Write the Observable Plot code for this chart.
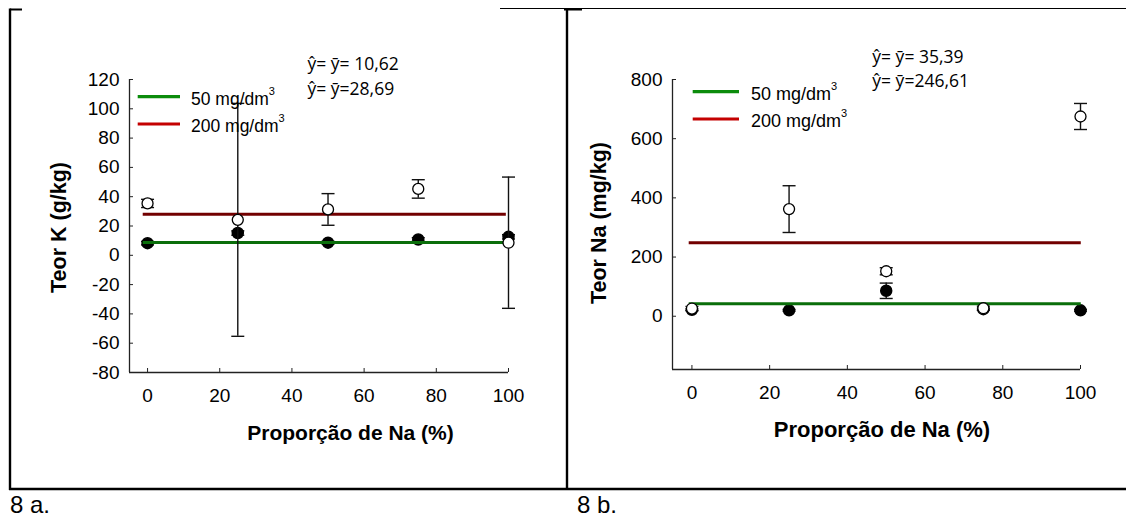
<!DOCTYPE html>
<html><head><meta charset="utf-8">
<script src="https://cdn.jsdelivr.net/npm/d3@7"></script>
<script src="https://cdn.jsdelivr.net/npm/@observablehq/plot@0.6"></script>
<style>
html,body{margin:0;padding:0;background:#fff;width:1126px;height:517px;overflow:hidden;}
#wrap{position:relative;width:1126px;height:517px;}
#a{position:absolute;left:0;top:0;}
#b{position:absolute;left:567px;top:0;}
#overlay{position:absolute;left:0;top:0;pointer-events:none;}
</style></head><body>
<div id="wrap"><div id="a"></div><div id="b"></div><svg id="overlay" width="1126" height="517"></svg></div>
<script>
// ---------- data ----------
const proportions = [0, 25, 50, 75, 100];
const xTicks = [0, 20, 40, 60, 80, 100];
const seriesNames = ["50 mg/dm", "200 mg/dm"];
const xTitle = "Proporção de Na (%)";

// 8 a. Teor K (g/kg)
const kTitle = "Teor K (g/kg)";
const kFilled = [8.3, 15.2, 8.6, 10.8, 12.6];      // 50 mg/dm3
const kFilledErr = [1.2, 1.5, 1.0, 1.2, 1.5];
const kOpen = [35.4, 24.2, 31.3, 45.3, 8.6];       // 200 mg/dm3
const kOpenErr = [2.8, 79.5, 10.8, 6.3, 44.8];
const kMeans = [8.7, 28.0];
const kMeanLabels = ["ŷ= ȳ= 10,62", "ŷ= ȳ=28,69"];
const kTicksY = [-80, -60, -40, -20, 0, 20, 40, 60, 80, 100, 120];
const kDomainY = [-80, 120];

// 8 b. Teor Na (mg/kg)
const naTitle = "Teor Na (mg/kg)";
const naFilled = [22, 20, 86, 24, 20];
const naFilledErr = [3, 3, 26, 3, 3];
const naOpen = [26, 362, 152, 27, 675];
const naOpenErr = [7, 79, 12, 7, 44];
const naMeans = [42.6, 248];
const naMeanLabels = ["ŷ= ȳ= 35,39", "ŷ= ȳ=246,61"];
const naTicksY = [0, 200, 400, 600, 800];
const naDomainY = [-180, 800];

const panelLabels = ["8 a.", "8 b."];

// ---------- styling ----------
const plotGreen = "#0a6e0a", plotRed = "#720000";
const legGreen = "#0c8c0c", legRed = "#c40000";

const capSymbol = {draw(ctx, size) { const r = Math.sqrt(size / Math.PI); ctx.moveTo(-r, 0); ctx.lineTo(r, 0); }};

function panel(cfg) {
  const rows = proportions.map((x, i) => ({x, f: cfg.filled[i], fe: cfg.filledErr[i], o: cfg.open[i], oe: cfg.openErr[i]}));
  const meanRows = cfg.means.map((m, i) => ({y: m, x1: cfg.lineX[0], x2: cfg.lineX[1], c: i === 0 ? plotGreen : plotRed}));
  return Plot.plot({
    width: cfg.width, height: 488,
    marginLeft: cfg.marginLeft, marginRight: cfg.marginRight,
    marginTop: 79, marginBottom: cfg.marginBottom,
    x: {domain: [-5, 100]},
    y: {domain: cfg.domainY},
    style: {fontFamily: "'Liberation Sans', Arial, sans-serif", fontSize: "19px", color: "#000", background: "transparent", overflow: "visible"},
    marks: [
      Plot.ruleX([-5], {stroke: "#222", strokeWidth: 1.3}),
      Plot.ruleY([cfg.domainY[0]], {stroke: "#222", strokeWidth: 1.3}),
      Plot.axisX({ticks: xTicks, tickSize: -4, tickPadding: 20, tickFormat: d => `${d}`, label: null, stroke: "#222"}),
      Plot.axisY({ticks: cfg.ticksY, tickSize: -4, tickPadding: 14, tickFormat: d => `${d}`, label: null, stroke: "#222"}),
      // filled series error bars
      Plot.ruleX(rows, {x: "x", y1: d => d.f - d.fe, y2: d => d.f + d.fe, stroke: "#111", strokeWidth: 1.4}),
      Plot.dot(rows, {x: "x", y: d => d.f + d.fe, symbol: capSymbol, r: 6.5, stroke: "#111", strokeWidth: 1.4, fill: "none"}),
      Plot.dot(rows, {x: "x", y: d => d.f - d.fe, symbol: capSymbol, r: 6.5, stroke: "#111", strokeWidth: 1.4, fill: "none"}),
      Plot.dot(rows, {x: "x", y: "f", r: 5.5, fill: "#000", stroke: "#000"}),
      // regression (mean) lines
      Plot.ruleY(meanRows, {y: "y", x1: "x1", x2: "x2", stroke: "c", strokeWidth: 3}),
      // open series error bars
      Plot.ruleX(rows, {x: "x", y1: d => d.o - d.oe, y2: d => d.o + d.oe, stroke: "#111", strokeWidth: 1.4}),
      Plot.dot(rows, {x: "x", y: d => d.o + d.oe, symbol: capSymbol, r: 6.5, stroke: "#111", strokeWidth: 1.4, fill: "none"}),
      Plot.dot(rows, {x: "x", y: d => d.o - d.oe, symbol: capSymbol, r: 6.5, stroke: "#111", strokeWidth: 1.4, fill: "none"}),
      Plot.dot(rows, {x: "x", y: "o", r: 5.5, fill: "#fff", stroke: "#000", strokeWidth: 1.3})
    ]
  });
}

document.getElementById("a").append(panel({
  width: 567, marginLeft: 129, marginRight: 59, marginBottom: 116,
  domainY: kDomainY, ticksY: kTicksY,
  filled: kFilled, filledErr: kFilledErr, open: kOpen, openErr: kOpenErr,
  means: kMeans, lineX: [-1.2, 99.4]
}));
document.getElementById("b").append(panel({
  width: 559, marginLeft: 105, marginRight: 46, marginBottom: 119,
  domainY: naDomainY, ticksY: naTicksY,
  filled: naFilled, filledErr: naFilledErr, open: naOpen, openErr: naOpenErr,
  means: naMeans, lineX: [-0.7, 100.2]
}));

// ---------- overlay: frames, titles, legends, annotations ----------
const ov = d3.select("#overlay");
const sans = "'Liberation Sans', Arial, sans-serif";
// frames
ov.append("line").attr("x1", 500).attr("x2", 1126).attr("y1", 8.5).attr("y2", 8.5).attr("stroke", "#000").attr("stroke-width", 1);
ov.append("line").attr("x1", 10).attr("x2", 22).attr("y1", 9.5).attr("y2", 9.5).attr("stroke", "#000").attr("stroke-width", 2);
ov.append("line").attr("x1", 564).attr("x2", 582).attr("y1", 9.5).attr("y2", 9.5).attr("stroke", "#000").attr("stroke-width", 2);
ov.append("line").attr("x1", 10).attr("x2", 10).attr("y1", 8.5).attr("y2", 490).attr("stroke", "#000").attr("stroke-width", 2.4);
ov.append("line").attr("x1", 567).attr("x2", 567).attr("y1", 8).attr("y2", 490).attr("stroke", "#000").attr("stroke-width", 2.4);
ov.append("line").attr("x1", 9).attr("x2", 1126).attr("y1", 489).attr("y2", 489).attr("stroke", "#000").attr("stroke-width", 2.4);

// panel labels
ov.append("text").attr("x", 10).attr("y", 513).attr("font-family", sans).attr("font-size", 24).text(panelLabels[0]);
ov.append("text").attr("x", 577).attr("y", 513).attr("font-family", sans).attr("font-size", 24).text(panelLabels[1]);

// axis titles
function bold(x, y, s, size, rot) {
  const t = ov.append("text").attr("font-family", sans).attr("font-weight", "bold").attr("font-size", size)
    .attr("text-anchor", "middle").attr("fill", "#000").text(s);
  if (rot) t.attr("transform", `translate(${x},${y}) rotate(-90)`); else t.attr("x", x).attr("y", y);
}
bold(350.5, 440, xTitle, 21, false);
bold(882, 437, xTitle, 22, false);
bold(66, 227.5, kTitle, 21.5, true);
bold(606, 223, naTitle, 21.5, true);

// legends
function legend(x0, x1, tx, ys, size) {
  [legGreen, legRed].forEach((c, i) => {
    ov.append("line").attr("x1", x0).attr("x2", x1).attr("y1", ys[i][0]).attr("y2", ys[i][0]).attr("stroke", c).attr("stroke-width", 3.2);
    const t = ov.append("text").attr("x", tx).attr("y", ys[i][1]).attr("font-family", sans).attr("font-size", size).attr("fill", "#000");
    t.append("tspan").text(seriesNames[i]);
    t.append("tspan").attr("dy", -10).attr("font-size", 11).text("3");
  });
}
legend(137.7, 180, 191, [[96.7, 105], [124, 132]], 17.5);
legend(692.7, 739, 751, [[91.7, 100], [119, 127.3]], 18);

// annotations
const ann = "'Open Sans', Lato, sans-serif";
ov.append("text").attr("x", 307.5).attr("y", 70).attr("font-family", ann).attr("font-size", 17.5).text(kMeanLabels[0]);
ov.append("text").attr("x", 307.5).attr("y", 95).attr("font-family", ann).attr("font-size", 17.5).text(kMeanLabels[1]);
ov.append("text").attr("x", 872.3).attr("y", 63.3).attr("font-family", ann).attr("font-size", 17.5).text(naMeanLabels[0]);
ov.append("text").attr("x", 872.3).attr("y", 87.3).attr("font-family", ann).attr("font-size", 17.5).text(naMeanLabels[1]);
</script>
</body></html>
